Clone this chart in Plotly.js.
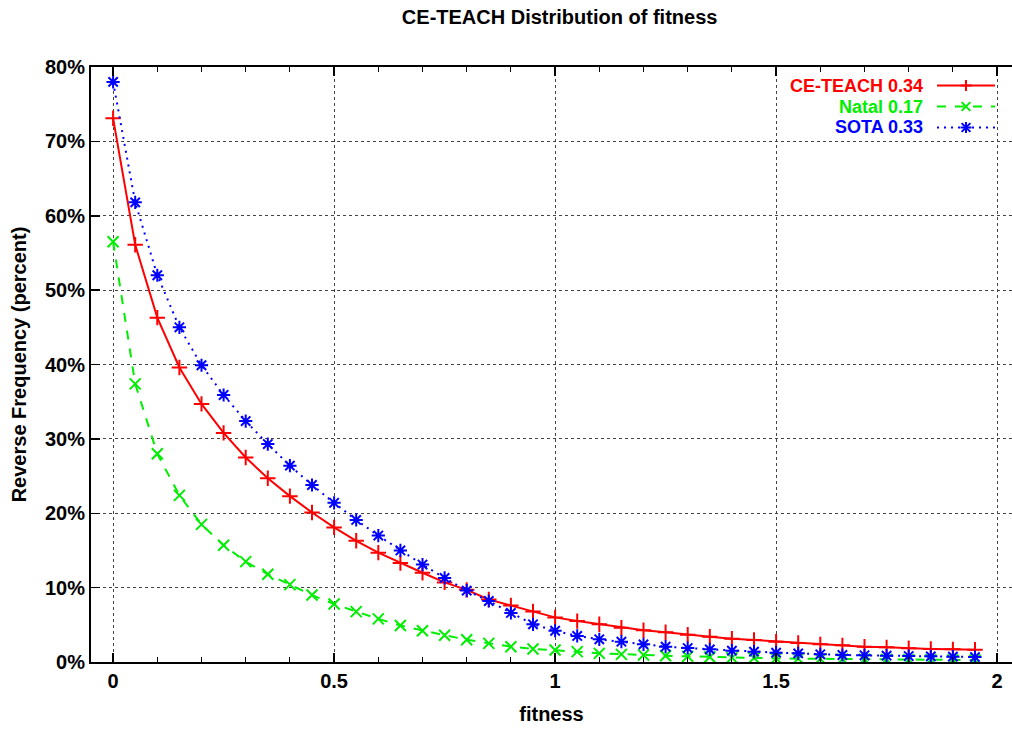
<!DOCTYPE html>
<html>
<head>
<meta charset="utf-8">
<script src="https://cdn.plot.ly/plotly-3.0.1.min.js"></script>
<style>html,body{margin:0;padding:0;background:#fff;}#chart{width:1012px;height:730px;}</style>
</head>
<body>
<div id="chart"></div>
<script>
var fitness = [0,0.05,0.1,0.15,0.2,0.25,0.3,0.35,0.4,0.45,0.5,0.55,0.6,0.65,0.7,0.75,0.8,0.85,0.9,0.95,
               1,1.05,1.1,1.15,1.2,1.25,1.3,1.35,1.4,1.45,1.5,1.55,1.6,1.65,1.7,1.75,1.8,1.85,1.9,1.95];
var ceTeach = [73.1,56.1,46.3,39.6,34.7,30.8,27.5,24.7,22.3,20.1,18.1,16.3,14.7,13.3,12.0,10.7,9.7,8.4,7.6,6.8,
               6.0,5.5,5.07,4.6,4.26,3.99,3.67,3.4,3.14,2.96,2.73,2.55,2.37,2.24,2.06,1.97,1.84,1.75,1.7,1.66];
var natal = [56.5,37.4,28.0,22.4,18.5,15.7,13.5,11.8,10.4,9.0,7.8,6.77,5.8,4.9,4.2,3.6,3.0,2.5,2.06,1.75,
             1.61,1.39,1.16,1.03,0.94,0.85,0.76,0.67,0.58,0.54,0.49,0.45,0.42,0.39,0.36,0.34,0.32,0.3,0.28,0.26];
var sota = [78.0,61.8,52.0,45.0,39.9,35.9,32.4,29.3,26.4,23.8,21.4,19.1,17.0,15.0,13.1,11.3,9.6,8.2,6.6,5.07,
            4.2,3.5,3.05,2.73,2.37,2.06,1.88,1.7,1.52,1.39,1.25,1.16,1.03,0.94,0.9,0.85,0.8,0.76,0.72,0.67];
var seriesNames = ['CE-TEACH 0.34','Natal 0.17','SOTA 0.33'];
var xTicks = [0,0.5,1,1.5,2];
var yTicks = [0,10,20,30,40,50,60,70,80];
var yTickLabels = ['0%','10%','20%','30%','40%','50%','60%','70%','80%'];

var FONT = 'Liberation Sans, Arial, Helvetica, sans-serif';
var FS = 20;
var colors = ['#ff0000','#00ee00','#0000ff'];
var dashes = ['solid','dash','2px,5px'];
var symbols = ['cross-thin-open','x-thin-open','asterisk-open'];
var ys = [ceTeach, natal, sota];

var traces = ys.map(function(y,i){
  return {
    x: fitness, y: y, type:'scatter', mode:'lines+markers', name: seriesNames[i],
    line:{color:colors[i], width:2, dash:dashes[i]},
    marker:{symbol:symbols[i], size:11, color:colors[i], line:{color:colors[i], width:2}},
    showlegend:false, hoverinfo:'skip'
  };
});

// legend drawn as annotations + shapes in paper coords
var W = 921, H = 595, L = 91, T = 67;
function px(x){ return (x - L)/W; }
function py(y){ return (T + H - y)/H; }
var legY = [85.5, 106.5, 127.5];
var annotations = [], shapes = [];
seriesNames.forEach(function(n,i){
  annotations.push({xref:'paper', yref:'paper', x:px(924), y:py(legY[i]), xanchor:'right', yanchor:'middle',
    borderpad:0,
    text:n, showarrow:false, font:{family:FONT, size:18, color:colors[i], weight:'bold'}});
  shapes.push({type:'line', xref:'paper', yref:'paper', x0:px(937), x1:px(995), y0:py(legY[i]), y1:py(legY[i]),
    line:{color:colors[i], width:2, dash:dashes[i]}});
  var cx = 966, cy = legY[i], r = 5.5;
  var segs = [];
  if (i===0 || i===2) { segs.push([cx-r,cy,cx+r,cy]); segs.push([cx,cy-r,cx,cy+r]); }
  if (i===1 || i===2) { var d = r*0.8; segs.push([cx-d,cy-d,cx+d,cy+d]); segs.push([cx-d,cy+d,cx+d,cy-d]); }
  segs.forEach(function(s){
    shapes.push({type:'line', xref:'paper', yref:'paper', x0:px(s[0]), y0:py(s[1]), x1:px(s[2]), y1:py(s[3]),
      line:{color:colors[i], width:2}});
  });
});

var layout = {
  width:1012, height:730,
  margin:{l:91, r:0, t:67, b:68, pad:0},
  paper_bgcolor:'#fff', plot_bgcolor:'#fff',
  font:{family:FONT, size:FS, color:'#000', weight:'bold'},
  title:{text:'CE-TEACH Distribution of fitness', x:0.553, xanchor:'center', y:0.977, yanchor:'middle',
         font:{family:FONT, size:FS, color:'#000', weight:'bold'}},
  xaxis:{
    range:[-0.05, -0.05 + 921/442], tickvals:xTicks, ticktext:xTicks.map(String),
    ticks:'inside', ticklen:9, tickwidth:1.5, tickcolor:'#000',
    minor:{dtick:0.1, tick0:0, ticks:'inside', ticklen:5, tickwidth:1, tickcolor:'#000', showgrid:false},
    showline:true, linecolor:'#000', linewidth:2, mirror:'allticks',
    showgrid:true, gridcolor:'#444', griddash:'dot', gridwidth:1, zeroline:false,
    tickfont:{family:FONT, size:FS, color:'#000', weight:'bold'},
    title:{text:'fitness', standoff:16, font:{family:FONT, size:FS, color:'#000', weight:'bold'}}
  },
  yaxis:{
    range:[0,80], tickvals:yTicks, ticktext:yTickLabels,
    ticks:'inside', ticklen:9, tickwidth:1.5, tickcolor:'#000',
    showline:true, linecolor:'#000', linewidth:2, mirror:false,
    showgrid:true, gridcolor:'#444', griddash:'dot', gridwidth:1, zeroline:false,
    tickfont:{family:FONT, size:FS, color:'#000', weight:'bold'},
    title:{text:'Reverse Frequency (percent)', standoff:13, font:{family:FONT, size:FS, color:'#000', weight:'bold'}}
  },
  annotations:annotations, shapes:shapes, showlegend:false
};

Plotly.newPlot('chart', traces, layout, {staticPlot:true, displayModeBar:false});
</script>
</body>
</html>
